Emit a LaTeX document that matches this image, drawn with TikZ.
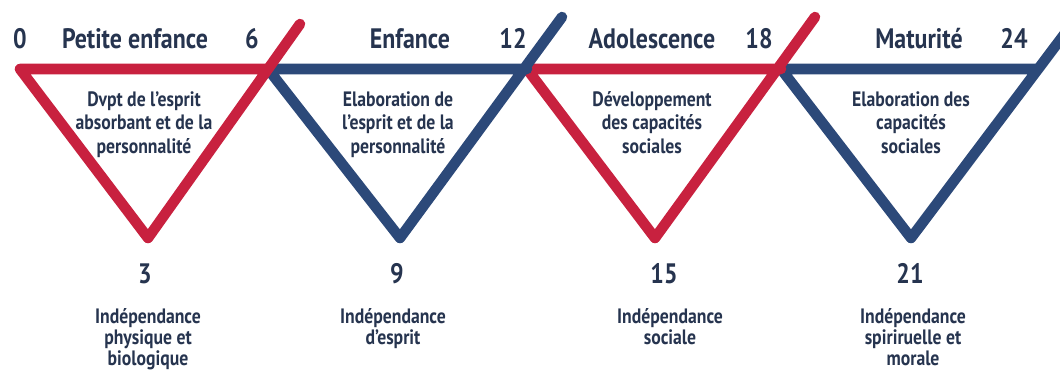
\documentclass[tikz,border=0pt]{standalone}
\usepackage{fontspec}
\setmainfont{PT Sans}[FakeStretch=0.85]
\usepackage{xcolor}
\usetikzlibrary{positioning}
\definecolor{rouge}{HTML}{C8213F}
\definecolor{bleu}{HTML}{2C4979}
\definecolor{encre}{HTML}{26344F}

\begin{document}
\begin{tikzpicture}[x=0.025cm, y=-0.025cm, text=encre,
		seg/.style={line width=7.5pt, line cap=round, line join=round},
		age/.style={font=\bfseries\fontsize{20}{22}\selectfont, anchor=base, inner sep=0pt},
		phase/.style={font=\bfseries\fontsize{14.8}{16.7}\selectfont, align=center, anchor=base, inner sep=0pt},
		gain/.style={font=\bfseries\fontsize{14.8}{14.9}\selectfont, align=center, anchor=base, inner sep=0pt}]
		\useasboundingbox (0,0) rectangle (1060,371);
		\coordinate (t0) at (20,69);
		\coordinate (t6) at (268,69);
		\coordinate (t12) at (527,69);
		\coordinate (t18) at (781,69);
		\coordinate (t24) at (1038,69);
		\coordinate (b3) at (148,238);
		\coordinate (b9) at (400,238);
		\coordinate (b15) at (655,238);
		\coordinate (b21) at (911,238);
		\coordinate (e6) at (300,24);
		\coordinate (e12) at (562,17);
		\coordinate (e18) at (815,17);
		\coordinate (e24) at (1072,24);
		\draw[seg, bleu] (e24) -- (b21) -- (t18) -- (t24);
		\draw[seg, rouge] (e18) -- (b15) -- (t12) -- (t18);
		\draw[seg, bleu] (e12) -- (b9) -- (t6) -- (t12);
		\draw[seg, rouge] (e6) -- (b3) -- (t0) -- (t6);
		\node[age] (a0) at (20,48) {0};
		\node[age] (p1) at (135,48) {Petite enfance};
		\node[age] (a6) at (252,48) {6};
		\node[age] (p2) at (410,48) {Enfance};
		\node[age] (a12) at (513,48) {12};
		\node[age] (p3) at (652,48) {Adolescence};
		\node[age] (a18) at (759,48) {18};
		\node[age] (p4) at (919,48) {Maturité};
		\node[age] (a24) at (1014,48) {24};
		\node[phase] (d1) at (144,153) {Dvpt de l’esprit\\absorbant et de la\\personnalité};
		\node[phase] (d2) at (398,153) {Elaboration de\\l’esprit et de la\\personnalité};
		\node[phase] (d3) at (652,153) {Développement\\des capacités\\sociales};
		\node[phase] (d4) at (911,153) {Elaboration des\\capacités\\sociales};
		\node[age] (a3) at (145,283) {3};
		\node[age] (a9) at (397,283) {9};
		\node[age] (a15) at (664,283) {15};
		\node[age] (a21) at (910,283) {21};
		\node[gain] (g1) at (148,365) {Indépendance\\physique et\\biologique};
		\node[gain] (g2) at (393,344) {Indépendance\\d’esprit};
		\node[gain] (g3) at (670,344) {Indépendance\\sociale};
		\node[gain] (g4) at (913,365) {Indépendance\\spiriruelle et\\morale};
	\end{tikzpicture}
\end{document}
